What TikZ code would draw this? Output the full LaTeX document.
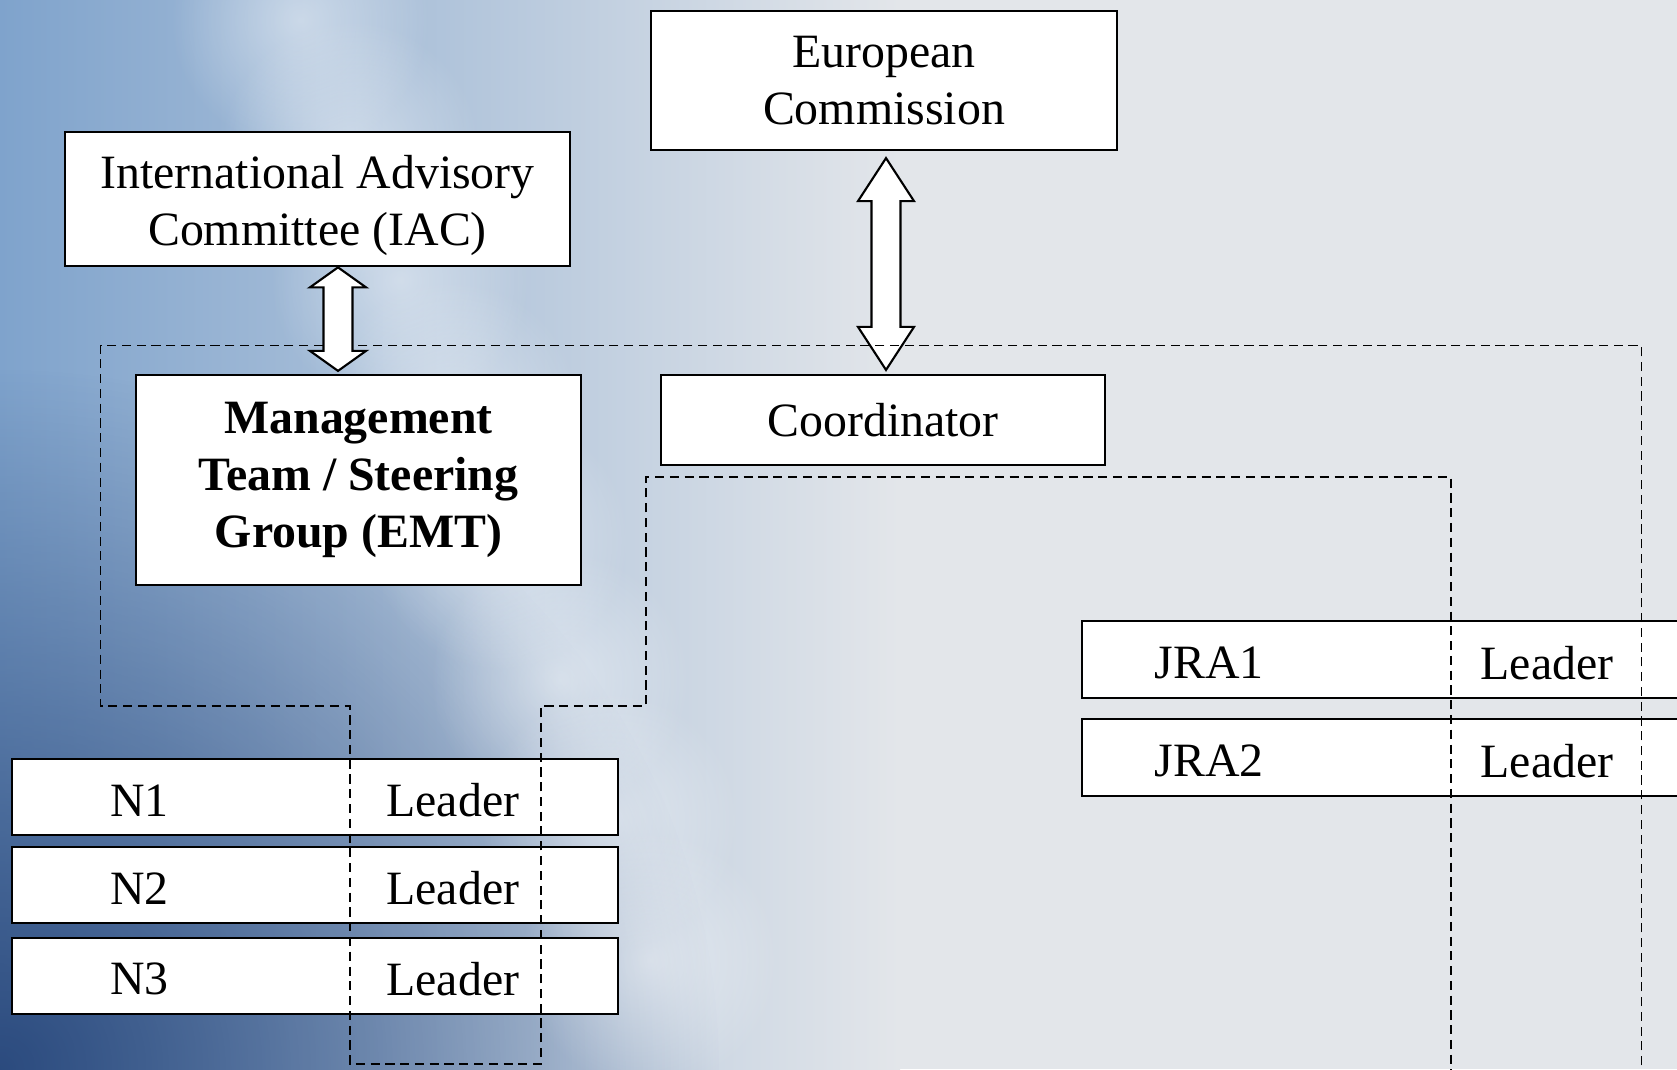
\documentclass[tikz,border=0pt]{standalone}
\usepackage{fontspec}
\setmainfont{Liberation Serif}
\usetikzlibrary{calc,positioning,fadings}

\definecolor{bggrey}{HTML}{E3E6EA}
\definecolor{bgleft}{HTML}{7FA3CC}
\definecolor{bgdeep}{HTML}{27467A}

\tikzfading[name=softdisc, inner color=transparent!0, outer color=transparent!100]

\tikzset{
    box/.style={draw, fill=white, line width=0.6pt, align=center, inner sep=0pt,
        font=\fontsize{13.6}{16.3}\selectfont},
    boxtext/.style={align=center, inner sep=0pt, font=\fontsize{13.6}{16.3}\selectfont},
    rowbox/.style={draw, fill=white, line width=0.6pt, inner sep=0pt,
        minimum height=0.76cm},
    rowtext/.style={font=\fontsize{13.6}{16.3}\selectfont, inner sep=0pt},
    grp/.style={line width=0.5pt, dash pattern=on 2.6pt off 1.6pt},
    arrowbody/.style={draw, fill=white, line width=0.6pt, line join=miter}
}

% two-headed block arrow: top tip, bottom tip, head length
\newcommand{\twoway}[3]{%
    \draw[arrowbody] (#1) -- ++(28,#3) -- ++(-13.5,0) -- ($(#2)+(14.5,-#3)$)
        -- ++(13.5,0) -- (#2) -- ++(-28,-#3) -- ++(13.5,0)
        -- ($(#1)+(-14.5,#3)$) -- ++(-13.5,0) -- cycle;}

\begin{document}
\begin{tikzpicture}[x=0.01cm, y=-0.01cm]
    \useasboundingbox (0,0) rectangle (1677,1069);
    \clip (0,0) rectangle (1677,1069);

    % background
    \fill[bggrey] (0,0) rectangle (1677,1069);
    \shade[left color=bgleft, right color=bggrey] (0,0) rectangle (900,1069);
    \fill[bgdeep, path fading=softdisc, opacity=0.95] (0,1069) ellipse [x radius=720, y radius=700];
    \foreach \px/\py in {300/20, 350/150, 400/280, 450/410, 500/540, 560/680, 610/820, 650/960} {
        \fill[white, path fading=softdisc, opacity=0.45] (\px,\py) circle [radius=130];
    }

    % boxes
    \node[box, minimum width=4.66cm, minimum height=1.39cm] (ec) at (884,80.5)
        {European\\Commission};
    \node[box, minimum width=5.05cm, minimum height=1.345cm] (iac) at (317.5,199) {};
    \node[boxtext] (iac text) at ($(iac.center)+(0,6.5)$)
        {International Advisory\\Committee (IAC)};
    \node[box, minimum width=4.45cm, minimum height=2.10cm, font=\fontsize{13.6}{16.3}\selectfont\bfseries]
        (emt) at (358.5,480) {Management\\Team / Steering\\Group (EMT)};
    \node[box, minimum width=4.44cm, minimum height=0.90cm] (coord) at (883,420)
        {Coordinator};

    % rows
    \node[rowbox, minimum width=6.055cm] (n1) at (315.3,797) {};
    \node[rowbox, minimum width=6.055cm] (n2) at (315.3,885) {};
    \node[rowbox, minimum width=6.055cm] (n3) at (315.3,976) {};
    \node[rowbox, minimum width=7cm, minimum height=0.77cm, anchor=west] (jra1) at (1081,659.5) {};
    \node[rowbox, minimum width=7cm, minimum height=0.77cm, anchor=west] (jra2) at (1081,757.5) {};

    \foreach \r/\t in {n1/N1, n2/N2, n3/N3, jra1/JRA1, jra2/JRA2} {
        \node[rowtext] (\r name) at ($(\r.west)+(128,3.2)$) {\t};
    }
    \foreach \r in {n1, n2, n3} {
        \node[rowtext] (\r lead) at ($(\r.west)+(441.5,3.2)$) {Leader};
    }
    \foreach \r in {jra1, jra2} {
        \node[rowtext] (\r lead) at ($(\r.west)+(466,3.2)$) {Leader};
    }

    % arrow to the commission
    \coordinate (a2t) at ($(ec.south)+(2,7)$);
    \coordinate (a2b) at ($(coord.north)+(3,-4)$);
    \twoway{a2t}{a2b}{43}

    % groups
    \draw[grp] (1641.5,1080) -- (1641.5,345.5) -- (100.5,345.5) -- (100.5,706)
        -- (350,706) -- (350,1064) -- (541,1064) -- (541,706) -- (646,706)
        -- (646,477) -- (1451,477) -- (1451,1080);

    % arrow to the advisory committee
    \coordinate (a1t) at ($(iac.south)!0.5!(iac.south -| emt.north)$);
    \coordinate (a1b) at ($(emt.north)!0.5!(emt.north -| iac.south)+(0,-3)$);
    \twoway{a1t}{a1b}{20}
\end{tikzpicture}
\end{document}
